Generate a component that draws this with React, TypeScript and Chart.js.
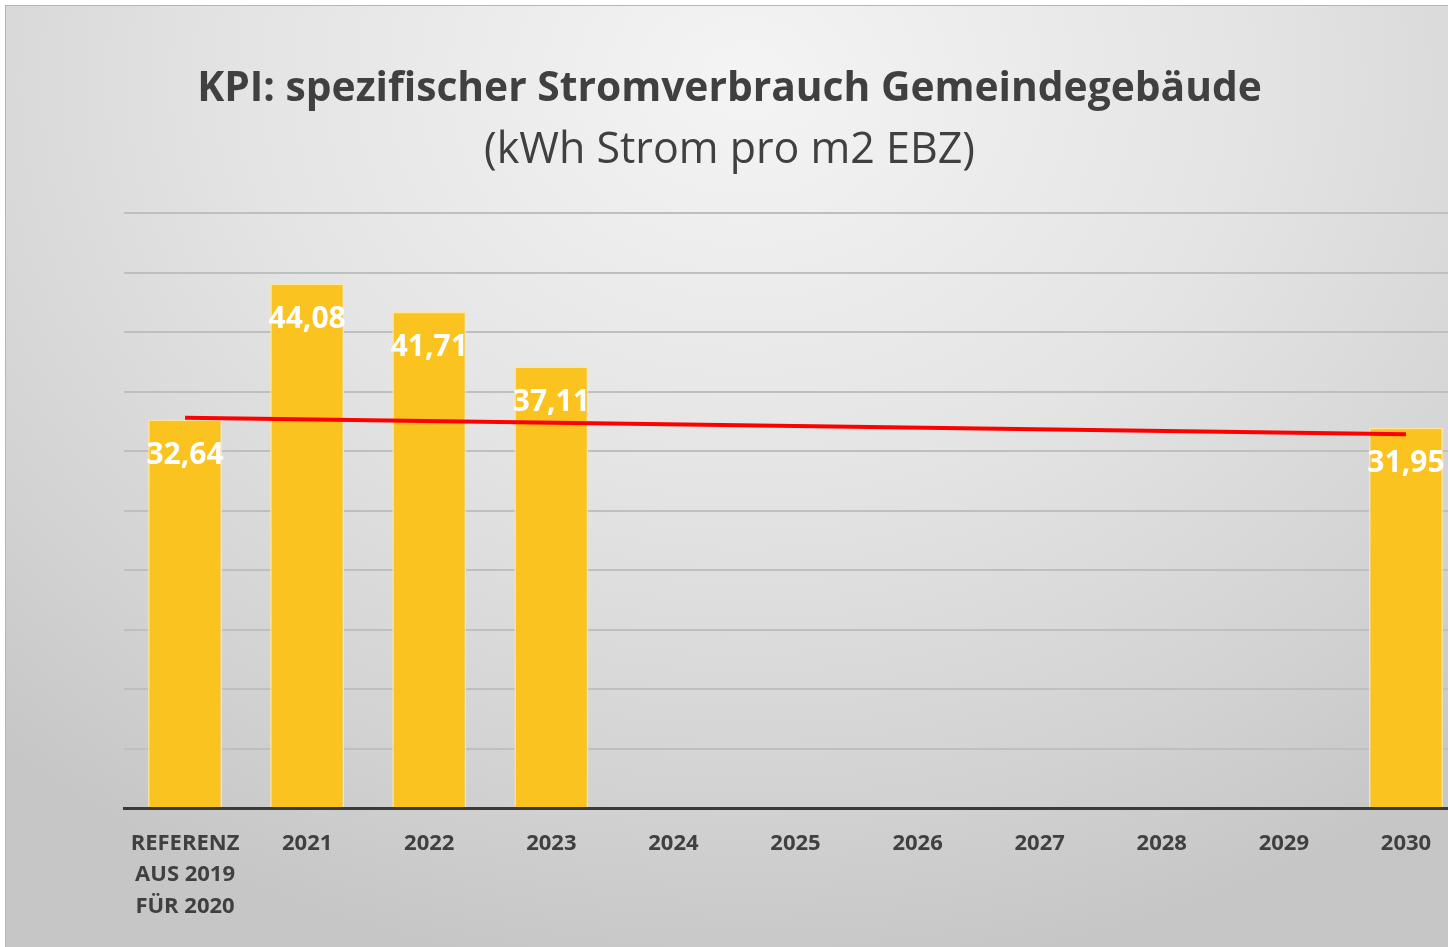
import React, { useEffect, useRef } from "react";
import { Chart, registerables } from "chart.js";

Chart.register(...registerables);

// ---- data ----
const categories: (string | string[])[] = [
  ["REFERENZ", "AUS 2019", "FÜR 2020"],
  "2021",
  "2022",
  "2023",
  "2024",
  "2025",
  "2026",
  "2027",
  "2028",
  "2029",
  "2030",
];
const kpiValues: (number | null)[] = [32.64, 44.08, 41.71, 37.11, null, null, null, null, null, null, 31.95];
const trendLine: (number | null)[] = [32.8, null, null, null, null, null, null, null, null, null, 31.4];
const yMin = 0;
const yMax = 50;
const yStep = 5;
const titleText = "KPI: spezifischer Stromverbrauch Gemeindegebäude";
const subtitleText = "(kWh Strom pro m2 EBZ)";

const fmt = (v: number) => v.toFixed(2).replace(".", ",");

const titlePlugin = {
  id: "customTitle",
  afterDraw(chart: any) {
    const ctx = chart.ctx;
    ctx.save();
    ctx.fillStyle = "#404040";
    ctx.textAlign = "center";
    ctx.textBaseline = "alphabetic";
    const cx = 723.5;
    ctx.font = "bold 40px 'Open Sans'";
    let w = ctx.measureText(titleText).width;
    let size = (40 * 1065) / w;
    ctx.font = `bold ${size}px 'Open Sans'`;
    ctx.fillText(titleText, cx, 95);
    ctx.font = "40px 'Open Sans'";
    w = ctx.measureText(subtitleText).width;
    size = (40 * 491) / w;
    ctx.font = `${size}px 'Open Sans'`;
    ctx.fillText(subtitleText, cx, 157);
    ctx.restore();
  },
};

const valueLabelPlugin = {
  id: "valueLabels",
  afterDatasetsDraw(chart: any) {
    const ctx = chart.ctx;
    const meta = chart.getDatasetMeta(0);
    ctx.save();
    ctx.fillStyle = "#ffffff";
    ctx.font = "bold 30px 'Open Sans'";
    ctx.textAlign = "center";
    ctx.textBaseline = "middle";
    meta.data.forEach((el: any, i: number) => {
      const v = kpiValues[i];
      if (v == null) return;
      ctx.fillText(fmt(v), el.x, el.y + 36);
    });
    ctx.restore();
  },
};

export default function App() {
  const ref = useRef<HTMLCanvasElement>(null);
  useEffect(() => {
    if (!ref.current) return;
    const chart = new Chart(ref.current, {
      type: "bar",
      data: {
        labels: categories as any,
        datasets: [
          {
            type: "bar",
            data: kpiValues,
            backgroundColor: "#fac31f",
            borderColor: "#fde6a2",
            borderWidth: 1.5,
            categoryPercentage: 1,
            barPercentage: 0.605,
            order: 1,
          } as any,
          {
            type: "line",
            data: trendLine,
            borderColor: "#ff0000",
            borderWidth: 4,
            pointRadius: 0,
            spanGaps: true,
            order: 0,
          } as any,
        ],
      },
      options: {
        animation: false,
        responsive: false,
        devicePixelRatio: 1,
        layout: { padding: { top: 207, right: 9, left: 0, bottom: 0 } },
        plugins: {
          legend: { display: false },
          tooltip: { enabled: false },
          title: { display: false },
        },
        scales: {
          x: {
            grid: { display: false },
            border: { display: true, color: "#3a3a3a", width: 3 },
            ticks: {
              color: "#404040",
              font: { family: "'Open Sans'", size: 22, weight: "bold", lineHeight: 1.43 },
              padding: 12,
              maxRotation: 0,
              autoSkip: false,
            },
            afterFit: (scale: any) => {
              scale.height = 139;
            },
          },
          y: {
            min: yMin,
            max: yMax,
            ticks: { display: false, stepSize: yStep },
            grid: { color: "#bfbfbf", lineWidth: 2, drawTicks: false },
            border: { display: false },
            afterFit: (scale: any) => {
              scale.width = 118;
            },
          },
        },
      } as any,
      plugins: [titlePlugin, valueLabelPlugin],
    });
    return () => chart.destroy();
  }, []);

  return (
    <div
      style={{
        position: "fixed",
        left: 0,
        top: 0,
        width: 1448,
        height: 947,
        overflow: "hidden",
        background: "#ffffff",
      }}
    >
      <div
        style={{
          position: "absolute",
          left: 5,
          top: 5,
          width: 1480,
          height: 950,
          borderLeft: "1px solid #b5b5b5",
          borderTop: "1px solid #b5b5b5",
          background:
            "radial-gradient(ellipse 75% 95% at 50% 8%, #f4f4f4 0%, #e4e4e4 45%, #d2d2d2 80%, #c6c6c6 100%)",
        }}
      >
        <canvas ref={ref} width={1470} height={941} style={{ display: "block", width: 1470, height: 941 }} />
      </div>
    </div>
  );
}
